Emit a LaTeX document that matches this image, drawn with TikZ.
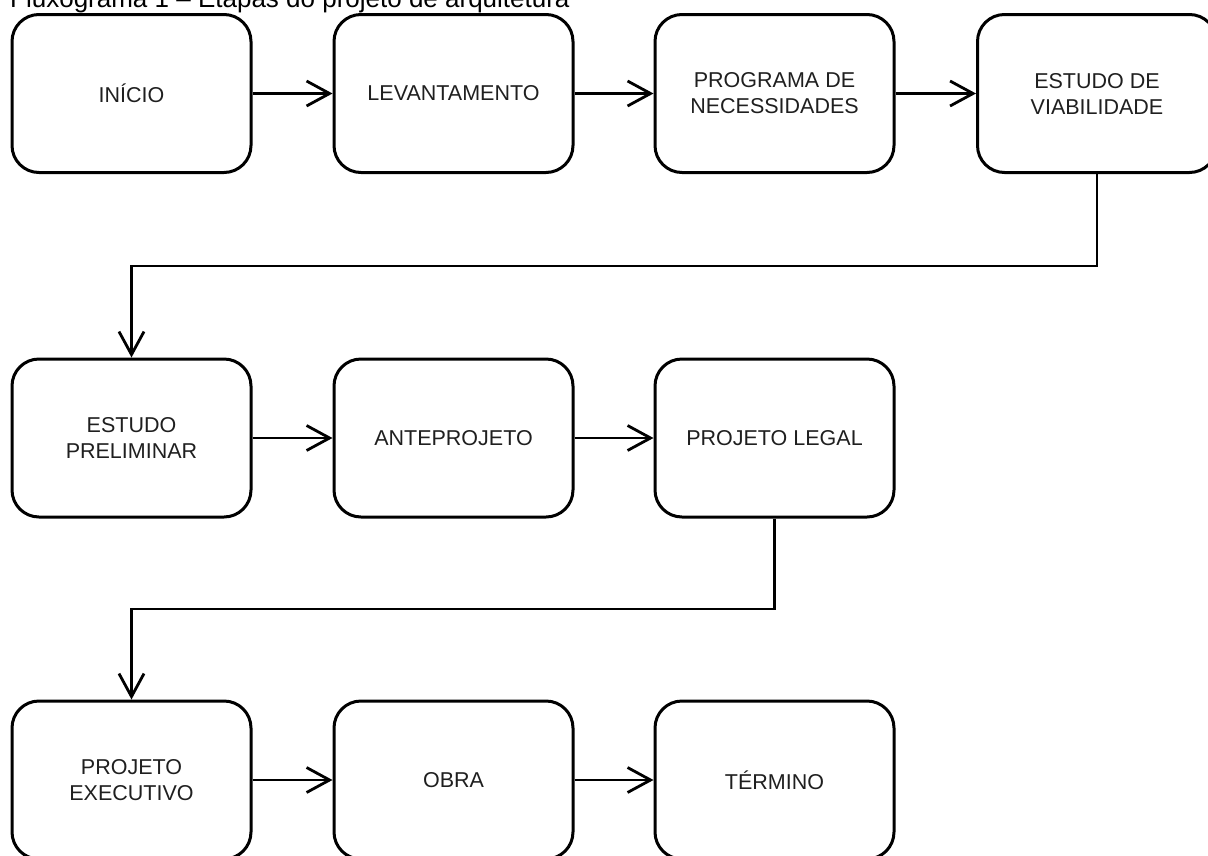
\documentclass[tikz,border=0pt]{standalone}
\usepackage{fontspec}
\setmainfont{Liberation Sans}
\usetikzlibrary{arrows.meta}
\begin{document}
\begin{tikzpicture}[x=1pt,y=-1pt,
  stage/.style={draw=black, line width=3pt, rounded corners=27pt,
    minimum width=239pt, minimum height=158pt, inner sep=0pt,
    align=center, font=\fontsize{21.5}{26}\selectfont, text=black!88},
  flow/.style={line width=2.8pt,
    -{Straight Barb[length=23pt,width=25pt,line width=2.8pt]}},
  caption/.style={anchor=base west, inner sep=0pt,
    font=\fontsize{26}{30}\selectfont, text=black}
]
\useasboundingbox (0,0) rectangle (1208,855);

% figure caption
\node[caption] (title) at (10,7.5) {Fluxograma 1 – Etapas do projeto de arquitetura};

% first row
\node[stage] (inicio)  at (131.5,93.5) {INÍCIO};
\node[stage] (levant)  at (453.5,93.5) {LEVANTAMENTO};
\node[stage] (prog)    at (774.5,93.5) {PROGRAMA DE\\NECESSIDADES};
\node[stage] (viab)    at (1097,93.5)  {ESTUDO DE\\VIABILIDADE};

% second row
\node[stage] (prelim)  at (131.5,438) {ESTUDO\\PRELIMINAR};
\node[stage] (antep)   at (453.5,438) {ANTEPROJETO};
\node[stage] (legal)   at (774.5,438) {PROJETO LEGAL};

% third row
\node[stage] (exec)    at (131.5,780) {PROJETO\\EXECUTIVO};
\node[stage] (obra)    at (453.5,780) {OBRA};
\node[stage] (termino) at (774.5,780) {TÉRMINO};

% heights of the elbow connectors between rows
\coordinate (bendA) at (0,266);
\coordinate (bendB) at (0,609);

% connectors
\draw[flow] (inicio) -- (levant);
\draw[flow] (levant) -- (prog);
\draw[flow] (prog) -- (viab);
\draw[flow] (viab.south) -- (viab.south |- bendA) -| (prelim.north);
\draw[flow] (prelim) -- (antep);
\draw[flow] (antep) -- (legal);
\draw[flow] (legal.south) -- (legal.south |- bendB) -| (exec.north);
\draw[flow] (exec) -- (obra);
\draw[flow] (obra) -- (termino);
\end{tikzpicture}
\end{document}
